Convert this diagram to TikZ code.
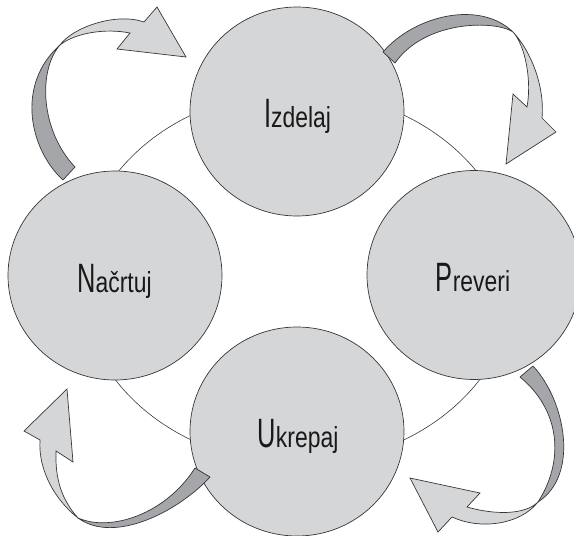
\documentclass[tikz,border=0pt]{standalone}
\usepackage{fontspec}
\usepackage{graphicx}
\setmainfont{Liberation Sans}
\usetikzlibrary{shapes.geometric}
\definecolor{cfill}{RGB}{213,214,216}
\definecolor{cdark}{RGB}{165,166,169}
\definecolor{cline}{RGB}{55,55,55}
\newcommand{\steplabel}[2]{{\fontsize{41}{41}\selectfont\scalebox{0.62}[1]{#1}}{\fontsize{29}{29}\selectfont\scalebox{0.79}[1]{#2}}}
\tikzset{
  circ/.style={ellipse, draw=cline, fill=cfill, line width=0.7pt, minimum width=214pt, minimum height=209pt, inner sep=0pt},
  ring/.style={draw=cline, line width=0.6pt},
  lbl/.style={anchor=base, inner sep=0pt, text=black!90},
  ribbonlight/.style={draw=cline, fill=cfill, line width=0.7pt, line join=miter},
  ribbondark/.style={draw=cline, fill=cdark, line width=0.7pt, line join=round}
}
\begin{document}
\begin{tikzpicture}[x=1pt,y=-1pt]
\useasboundingbox (0,0) rectangle (574,536);
% connecting ring
\draw[ring] (297.5,277.5) ellipse [x radius=218, y radius=186];
% circles
\node[circ] (izd) at (297,111.5) {};
\node[circ] (nac) at (115,275.5) {};
\node[circ] (prev) at (474,275) {};
\node[circ] (ukr) at (297,431.5) {};
% labels
\node[lbl] (tizd) at (297.5,127) {\steplabel{I}{zdelaj}};
\node[lbl] (tnac) at (114.5,292) {\steplabel{N}{ačrtuj}};
\node[lbl] (tprev) at (473,291) {\steplabel{P}{reveri}};
\node[lbl] (tukr) at (298,447) {\steplabel{U}{krepaj}};
% arrow A: Nacrtuj -> Izdelaj
\draw[ribbondark] (63,180) .. controls (30,150) and (15,85) .. (60,45)
  .. controls (38,70) and (40,130) .. (75,167) -- cycle;
\draw[ribbonlight] (60,45) .. controls (72,28) and (115,12) .. (144,22)
  -- (157,7) -- (186,57) -- (117,49) -- (130,33)
  .. controls (105,28) and (75,33) .. (60,45) -- cycle;
% arrow B: Izdelaj -> Preveri
\draw[ribbondark] (383,52) .. controls (415,15) and (480,0) .. (513,32)
  .. controls (495,20) and (425,20) .. (395,63) -- cycle;
\draw[ribbonlight] (513,32) .. controls (530,50) and (545,85) .. (542,118)
  -- (556,132) -- (506,164) -- (513,94) -- (527,107)
  .. controls (532,80) and (525,45) .. (513,32) -- cycle;
% arrow C: Ukrepaj -> Nacrtuj
\draw[ribbondark] (210,477) .. controls (180,510) and (115,545) .. (78,518)
  .. controls (110,532) and (165,515) .. (195,468) -- cycle;
\draw[ribbonlight] (78,518) .. controls (55,500) and (38,470) .. (40,440)
  -- (24,431) -- (67,389) -- (73,462) -- (56,451)
  .. controls (55,480) and (62,500) .. (78,518) -- cycle;
% arrow D: Preveri -> Ukrepaj
\draw[ribbondark] (533,366) .. controls (565,400) and (580,475) .. (538,502)
  .. controls (565,460) and (560,410) .. (520,377) -- cycle;
\draw[ribbonlight] (538,502) .. controls (520,525) and (480,530) .. (452,517)
  -- (438,532) -- (410,478) -- (480,493) -- (467,507)
  .. controls (495,515) and (525,515) .. (538,502) -- cycle;
\end{tikzpicture}
\end{document}
